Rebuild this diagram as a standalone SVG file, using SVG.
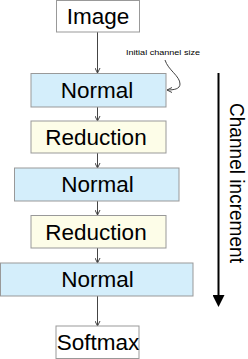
<svg xmlns="http://www.w3.org/2000/svg" width="248" height="359" viewBox="0 0 248 359">
<style>
.box{stroke:#999;stroke-width:1}
.plain{fill:#fff}
.normal{fill:#d4eefb}
.red{fill:#fdfde8}
.lbl{font-family:"Liberation Sans",Arial,sans-serif;font-size:22.5px;fill:#000;text-anchor:middle}
.conn{stroke:#444;stroke-width:1;fill:none}
</style>
<defs>
<marker id="ah" markerWidth="6" markerHeight="6" refX="5" refY="3" orient="auto" markerUnits="userSpaceOnUse">
<path d="M0,0.5 L5,3 L0,5.5" fill="none" stroke="#444" stroke-width="1"/>
</marker>
<marker id="big" markerWidth="14" markerHeight="12" refX="0" refY="6" orient="auto" markerUnits="userSpaceOnUse">
<path d="M0,0 L12,6 L0,12 Z" fill="#000"/>
</marker>
</defs>
<g id="connectors">
<line class="conn" x1="97.5" y1="32" x2="97.5" y2="73" marker-end="url(#ah)"/>
<line class="conn" x1="97.5" y1="107" x2="97.5" y2="121" marker-end="url(#ah)"/>
<line class="conn" x1="97.5" y1="153" x2="97.5" y2="168" marker-end="url(#ah)"/>
<line class="conn" x1="97.5" y1="201" x2="97.5" y2="215" marker-end="url(#ah)"/>
<line class="conn" x1="97.5" y1="248" x2="97.5" y2="263" marker-end="url(#ah)"/>
<line class="conn" x1="97.5" y1="296" x2="97.5" y2="326" marker-end="url(#ah)"/>
<path class="conn" d="M165,60 C168,70 180,76 180,84 C180,89 174,90 167,90" marker-end="url(#ah)"/>
<line x1="218.5" y1="73" x2="218.5" y2="295" stroke="#000" stroke-width="2" marker-end="url(#big)"/>
</g>
<g id="image"><rect class="box plain" x="56.5" y="0.5" width="83" height="31.5"/><text class="lbl" x="98" y="23.5">Image</text></g>
<g id="normal1"><rect class="box normal" x="31" y="73.5" width="135" height="33.5"/><text class="lbl" x="97" y="98">Normal</text></g>
<g id="reduction1"><rect class="box red" x="31" y="121" width="135" height="32"/><text class="lbl" x="96" y="145">Reduction</text></g>
<g id="normal2"><rect class="box normal" x="14.5" y="168" width="164.5" height="33"/><text class="lbl" x="97.5" y="192">Normal</text></g>
<g id="reduction2"><rect class="box red" x="31" y="215.5" width="135" height="32.5"/><text class="lbl" x="96" y="240">Reduction</text></g>
<g id="normal3"><rect class="box normal" x="0.5" y="263" width="192.5" height="33"/><text class="lbl" x="97.5" y="287">Normal</text></g>
<g id="softmax"><rect class="box plain" x="56" y="326" width="83" height="32.5"/><text class="lbl" x="98" y="350">Softmax</text></g>
<g id="annotation"><text x="126" y="55" font-family="'Liberation Sans',Arial,sans-serif" font-size="8" textLength="74" lengthAdjust="spacingAndGlyphs">Initial channel size</text></g>
<g id="axis-label"><text transform="translate(230,183) rotate(90)" font-family="'Liberation Sans',Arial,sans-serif" font-size="20" text-anchor="middle" textLength="160" lengthAdjust="spacingAndGlyphs">Channel increment</text></g>
</svg>
